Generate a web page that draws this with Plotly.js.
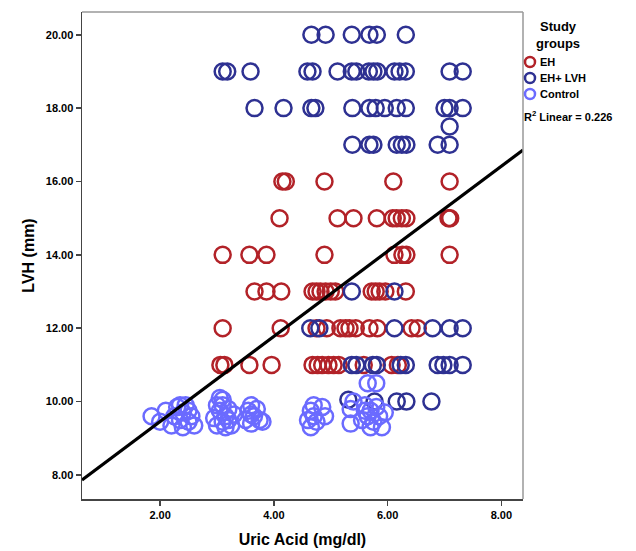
<!DOCTYPE html>
<html>
<head>
<meta charset="utf-8">
<script src="https://cdn.plot.ly/plotly-3.0.1.min.js"></script>
<style>html,body{margin:0;padding:0;background:#fff;}#chart{width:636px;height:551px;}</style>
</head>
<body>
<div id="chart"></div>
<script>
// ---- Data ----
const ehX = [
  4.15, 4.21, 4.89, 6.10, 7.09,
  4.10, 5.12, 5.40, 5.81, 6.09, 6.16, 6.25, 6.33, 7.07, 7.10,
  3.10, 3.57, 3.87, 4.89, 6.12, 6.26, 6.33, 7.09,
  3.66, 3.87, 4.13, 4.68, 4.75, 4.82, 4.91, 5.00, 5.08, 5.72, 5.79, 5.86, 5.96, 6.32,
  3.10, 4.12, 4.75, 4.93, 5.17, 5.26, 5.33, 5.44, 5.68, 5.82, 6.42, 6.53,
  3.06, 3.13, 3.57, 3.96, 4.68, 4.77, 4.85, 4.96, 5.05, 5.14, 5.58, 6.07, 6.18
];
const ehY = [
  16, 16, 16, 16, 16,
  15, 15, 15, 15, 15, 15, 15, 15, 15, 15,
  14, 14, 14, 14, 14, 14, 14, 14,
  13, 13, 13, 13, 13, 13, 13, 13, 13, 13, 13, 13, 13, 13,
  12, 12, 12, 12, 12, 12, 12, 12, 12, 12, 12, 12,
  11, 11, 11, 11, 11, 11, 11, 11, 11, 11, 11, 11, 11
];
const ehLvhX = [
  4.66, 4.91, 5.37, 5.68, 5.81, 6.32,
  3.10, 3.18, 3.59, 4.59, 4.68, 5.12, 5.37, 5.45, 5.67, 5.75, 5.82, 6.12, 6.21, 6.32, 7.09, 7.32,
  3.66, 4.17, 4.66, 4.73, 5.38, 5.68, 5.79, 5.95, 6.16, 6.32, 7.00, 7.09, 7.32,
  7.09,
  5.38, 5.68, 5.75, 6.16, 6.25, 6.33, 6.88, 7.09,
  5.37, 6.12,
  4.64, 4.80, 6.12, 6.79, 7.09, 7.32,
  5.37, 5.45, 5.74, 5.81, 6.23, 6.32, 6.88, 6.98, 7.09, 7.32,
  5.31, 5.77, 6.16, 6.33, 6.77
];
const ehLvhY = [
  20, 20, 20, 20, 20, 20,
  19, 19, 19, 19, 19, 19, 19, 19, 19, 19, 19, 19, 19, 19, 19, 19,
  18, 18, 18, 18, 18, 18, 18, 18, 18, 18, 18, 18, 18,
  17.5,
  17, 17, 17, 17, 17, 17, 17, 17,
  13, 13,
  12, 12, 12, 12, 12, 12,
  11, 11, 11, 11, 11, 11, 11, 11, 11, 11,
  10.05, 10, 10, 10, 10
];
const controlX = [
  1.85, 2.00, 2.10, 2.20, 2.25, 2.30, 2.35, 2.40, 2.40, 2.45, 2.50, 2.50, 2.55, 2.60, 2.35,
  2.95, 3.00, 3.05, 3.05, 3.10, 3.10, 3.15, 3.15, 3.20, 3.20, 3.25, 3.30, 3.00, 3.10,
  3.50, 3.55, 3.60, 3.60, 3.65, 3.70, 3.75, 3.80, 3.60,
  4.60, 4.65, 4.65, 4.70, 4.75, 4.85, 4.90, 4.70,
  5.35, 5.35, 5.40, 5.65, 5.80, 5.60, 5.65, 5.70, 5.75, 5.80, 5.85, 5.90, 5.95, 5.70, 5.55, 5.60
];
const controlY = [
  9.60, 9.45, 9.75, 9.35, 9.60, 9.85, 9.50, 9.30, 9.70, 9.90, 9.45, 9.75, 9.60, 9.35, 9.90,
  9.55, 9.35, 9.75, 10.10, 9.90, 9.45, 9.60, 9.30, 9.80, 9.50, 9.35, 9.65, 9.90, 10.05,
  9.50, 9.75, 9.90, 9.40, 9.60, 9.80, 9.50, 9.45, 9.65,
  9.50, 9.30, 9.75, 9.90, 9.45, 9.85, 9.60, 9.60,
  9.40, 9.80, 10.00, 10.50, 10.50, 9.90, 9.60, 9.75, 9.45, 9.85, 9.60, 9.30, 9.70, 9.30, 9.50, 9.75
];
const groupNames = ["EH", "EH+ LVH", "Control"];
const legendTitle = "Study<br>groups";
const fitSlope = 1.16;
const fitIntercept = 7.138;
const rSquared = "0.226";
const xTickVals = [2, 4, 6, 8];
const xTickText = ["2.00", "4.00", "6.00", "8.00"];
const yTickVals = [8, 10, 12, 14, 16, 18, 20];
const yTickText = ["8.00", "10.00", "12.00", "14.00", "16.00", "18.00", "20.00"];

// ---- Chart ----
const W = 636, H = 551;
const M = {l: 82, r: 113, t: 12, b: 52};
const plotW = W - M.l - M.r, plotH = H - M.t - M.b;
const px2paperX = px => (px - M.l) / plotW;
const px2paperY = py => (H - M.b - py) / plotH;

const xRange = [0.627, 8.38];
const yRange = [7.345, 20.62];
const colors = ["#B22228", "#2E3192", "#6B6BFF"];
const narrow = "Liberation Sans Narrow, Arial Narrow, Liberation Sans, Arial, sans-serif";
const sans = "Liberation Sans, Arial, sans-serif";

function markerTrace(x, y, name, color) {
  return {
    x: x, y: y, name: name, type: "scatter", mode: "markers",
    marker: {symbol: "circle-open", size: 16, color: color, line: {width: 2.5, color: color}},
    hoverinfo: "x+y", showlegend: false
  };
}

const fitX = xRange.slice();
const fitY = fitX.map(v => fitIntercept + fitSlope * v);

const data = [
  markerTrace(ehX, ehY, groupNames[0], colors[0]),
  markerTrace(ehLvhX, ehLvhY, groupNames[1], colors[1]),
  markerTrace(controlX, controlY, groupNames[2], colors[2]),
  {x: fitX, y: fitY, type: "scatter", mode: "lines", line: {color: "#000", width: 3.2},
   showlegend: false, hoverinfo: "skip"}
];

// Custom legend (symbols as pixel-sized shapes, labels as annotations)
const legendRowsPy = [62, 78, 94];
const legendSymPx = 530;
const legendShapes = groupNames.map((g, i) => ({
  type: "circle", xref: "paper", yref: "paper",
  xsizemode: "pixel", ysizemode: "pixel",
  xanchor: px2paperX(legendSymPx), yanchor: px2paperY(legendRowsPy[i]),
  x0: -5, x1: 5, y0: -5, y1: 5,
  line: {color: colors[i], width: 2.5}
}));
const legendAnns = groupNames.map((g, i) => ({
  xref: "paper", yref: "paper", x: px2paperX(538), y: px2paperY(legendRowsPy[i]),
  xanchor: "left", yanchor: "middle", showarrow: false,
  text: "<b>" + g + "</b>", font: {family: sans, size: 11, color: "#000"}
}));

const layout = {
  width: W, height: H,
  margin: {l: M.l, r: M.r, t: M.t, b: M.b, pad: 0},
  paper_bgcolor: "#fff", plot_bgcolor: "#fff",
  showlegend: false,
  xaxis: {
    range: xRange, tickvals: xTickVals, ticktext: xTickText,
    showgrid: false, zeroline: false, showline: true, linecolor: "#444", linewidth: 1.5,
    ticks: "outside", ticklen: 5, tickwidth: 1.5, tickcolor: "#444",
    tickfont: {family: narrow, size: 11, color: "#000", weight: "bold"},
    title: {text: "<b>Uric Acid (mg/dl)</b>", font: {family: narrow, size: 16, color: "#000"}, standoff: 14}
  },
  yaxis: {
    range: yRange, tickvals: yTickVals, ticktext: yTickText,
    showgrid: false, zeroline: false, showline: true, linecolor: "#444", linewidth: 1.5,
    ticks: "outside", ticklen: 5, tickwidth: 1.5, tickcolor: "#444",
    tickfont: {family: narrow, size: 11, color: "#000", weight: "bold"},
    title: {text: "<b>LVH (mm)</b>", font: {family: narrow, size: 16, color: "#000"}, standoff: 7}
  },
  shapes: [
    {type: "line", xref: "paper", yref: "paper", x0: 0, x1: 1, y0: 1, y1: 1, line: {color: "#999", width: 1.5}},
    {type: "line", xref: "paper", yref: "paper", x0: 1, x1: 1, y0: 0, y1: 1, line: {color: "#999", width: 1.5}}
  ].concat(legendShapes),
  annotations: [
    {xref: "paper", yref: "paper", x: px2paperX(558), y: px2paperY(35), xanchor: "center", yanchor: "middle",
     showarrow: false, align: "center", text: "<b>" + legendTitle + "</b>",
     font: {family: sans, size: 13, color: "#000"}},
    {xref: "paper", yref: "paper", x: px2paperX(522), y: px2paperY(116), xanchor: "left", yanchor: "middle",
     showarrow: false, text: "<b>R<sup>2</sup> Linear = " + rSquared + "</b>",
     font: {family: sans, size: 11, color: "#000"}}
  ].concat(legendAnns)
};

Plotly.newPlot("chart", data, layout, {displayModeBar: false, staticPlot: true});
</script>
</body>
</html>
